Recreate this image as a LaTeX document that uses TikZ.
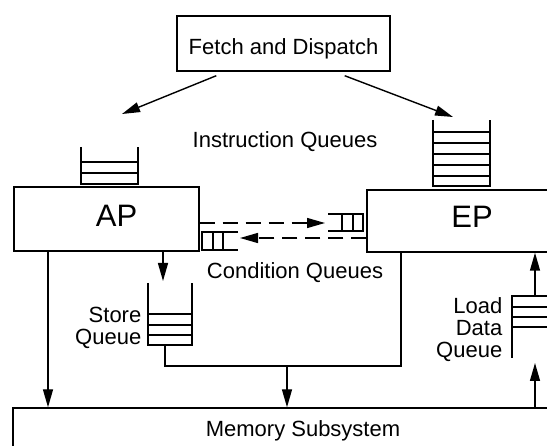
\documentclass[tikz,border=0pt]{standalone}
\usepackage{fontspec}
\setmainfont{Liberation Sans}
\usetikzlibrary{arrows.meta}

\tikzset{
  box/.style={draw, inner sep=0pt},
  lbl/.style={inner sep=0pt, font=\fontsize{22}{22}\selectfont},
  big/.style={font=\fontsize{31}{31}\selectfont},
  arr/.style={-{Triangle[length=18pt,width=10pt]}},
  dasharr/.style={arr, dash pattern=on 15pt off 8pt},
}

\begin{document}
\begin{tikzpicture}[x=1pt, y=-1pt, line width=1.4pt]
\useasboundingbox (0,0) rectangle (547,446);
\node[box, lbl, minimum width=213pt, minimum height=55pt, text height=23pt, text depth=0pt] (fetch) at (283.5,43.5) {Fetch and Dispatch};
\node[box, big, minimum width=185pt, minimum height=64pt, text height=22pt, text depth=6pt] (ap) at (106.5,219) {\hspace*{20pt}AP};
\node[box, big, minimum width=210pt, minimum height=62pt, text height=22pt, text depth=8pt] (ep) at (472,221) {EP};
\node[box, lbl, minimum width=580pt, minimum height=50pt, text height=16pt, text depth=8pt] (mem) at (303,433) {Memory Subsystem};
\node[lbl, anchor=base] (iqlbl) at (285,148) {Instruction Queues};
\node[lbl, anchor=base] (cqlbl) at (295,279) {Condition Queues};
\node[lbl, anchor=north east, align=right] (sqlbl) at (142,306) {Store\\Queue};
\node[lbl, anchor=north east, align=right] (ldqlbl) at (503,297) {Load\\Data\\Queue};

\draw (81,147) |- (138,184) -- (138,147);
\foreach \y in {162,173} \draw (81,\y) -- (138,\y);
\draw (433,120) |- (490,186) -- (490,120);
\foreach \y in {132,143,154,165,176} \draw (433,\y) -- (490,\y);
\draw (148,283) |- (192,345) -- (192,283);
\foreach \y in {314,325,335} \draw (148,\y) -- (192,\y);
\draw (512,358) |- (560,296) -- (560,358);
\foreach \y in {307,317,327} \draw (512,\y) -- (560,\y);
\draw (328,214) -| (363,231) -- (328,231);
\foreach \x in {342,353} \draw (\x,214) -- (\x,231);
\draw (238,232) -| (202,250) -- (238,250);
\foreach \x in {213,223} \draw (\x,232) -- (\x,250);

\coordinate (iqa) at (122,114);
\coordinate (iqe) at (453,117);
\coordinate (cqe) at (325,223);
\coordinate (cqa) at (240,238);
\coordinate (apm) at (48,408);
\coordinate (sq) at (163,281);
\coordinate (sqb) at (165,345);
\coordinate (jn) at (287,366);
\coordinate (epj) at (401,252);
\coordinate (ldqt) at (535,296);
\coordinate (ldqb) at (535,363);

\draw[arr] ([xshift=40pt, yshift=-4pt]fetch.south west) -- (iqa);
\draw[arr] ([xshift=-46pt, yshift=-4pt]fetch.south east) -- (iqe);
\draw[dasharr] (ap.east |- cqe) -- (cqe);
\draw[dasharr] (ep.west |- cqa) -- (cqa);
\draw[arr] (ap.south -| apm) -- (mem.north -| apm);
\draw[arr] (ap.south -| sq) -- (sq);
\draw (sqb) |- (jn) -| (ep.south -| epj);
\draw[arr] (jn) -- (mem.north -| jn);
\draw[arr] (mem.north -| ldqb) -- (ldqb);
\draw[arr] (ldqt) -- (ep.south -| ldqt);
\end{tikzpicture}
\end{document}
